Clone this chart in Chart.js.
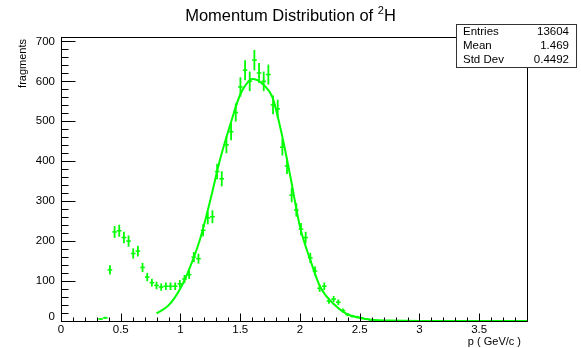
<!DOCTYPE html>
<html>
<head>
<meta charset="utf-8">
<script src="https://cdn.jsdelivr.net/npm/chart.js@4"></script>
<style>
  body { margin: 0; background: #fff; }
  canvas { display: block; }
</style>
</head>
<body>
<canvas id="myChart" width="581" height="348"></canvas>
<script>
// momentum histogram, 100 bins from 0 to 3.9 GeV/c
const xMin = 0
const xMax = 3.9
const binWidth = 0.039
const counts = [
  0, 0, 0, 0, 0, 0, 0, 0, 5, 8,
  128, 223, 226, 209, 200, 169, 175, 134, 110, 96,
  89, 85, 87, 87, 87, 93, 105, 116, 160, 156,
  227, 258, 261, 374, 356, 441, 474, 522, 586, 628,
  600, 653, 621, 600, 617, 541, 531, 435, 388, 315,
  278, 230, 209, 158, 125, 82, 87, 50, 55, 47,
  26, 16, 12, 10, 7, 5, 3, 2, 0, 0,
  0, 0, 0, 0, 0, 0, 0, 0, 0, 0,
  0, 0, 0, 0, 0, 0, 0, 0, 0, 0,
  0, 0, 0, 0, 0, 0, 0, 0, 0, 0
]

// fitted curve
const fitP = [0.8, 0.9, 1.0, 1.08, 1.17, 1.25, 1.33, 1.42, 1.5, 1.58, 1.61, 1.7, 1.77, 1.84, 1.92, 2.0, 2.09, 2.17, 2.28, 2.39, 2.5, 2.6, 2.75, 3.0, 3.9]
const fitN = [19, 39, 82, 135, 211, 303, 403, 495, 567, 603, 606, 590, 560, 478, 361, 236, 150, 85, 43, 18, 8, 3, 1, 0, 0]

const xTicks = ['0', '0.5', '1', '1.5', '2', '2.5', '3', '3.5']
const yTicks = ['0', '100', '200', '300', '400', '500', '600', '700']
const yMax = 711

const statNames = ['Entries', 'Mean', 'Std Dev']
const statValues = ['13604', '1.469', '0.4492']

const green = '#00ff00'
const font = '"Liberation Sans", Arial, sans-serif'

const histPoints = []
counts.forEach(function (n, i) {
  if (n > 0) histPoints.push({ x: xMin + (i + 0.5) * binWidth, y: n })
})
const fitPoints = fitP.map(function (p, i) { return { x: p, y: fitN[i] } })

// error bars: sqrt(N) vertically, bin width horizontally
const errorBars = {
  id: 'errorBars',
  beforeDatasetsDraw(chart) {
    const c = chart.ctx
    const xs = chart.scales.x
    const ys = chart.scales.y
    c.save()
    c.strokeStyle = green
    histPoints.forEach(function (pt) {
      const e = Math.sqrt(pt.y)
      const px = xs.getPixelForValue(pt.x)
      const py = ys.getPixelForValue(pt.y)
      c.lineWidth = 1.8
      c.beginPath()
      c.moveTo(px, ys.getPixelForValue(pt.y - e))
      c.lineTo(px, ys.getPixelForValue(pt.y + e))
      c.stroke()
      c.lineWidth = 1.5
      c.beginPath()
      c.moveTo(xs.getPixelForValue(pt.x - binWidth / 2), py)
      c.lineTo(xs.getPixelForValue(pt.x + binWidth / 2), py)
      c.stroke()
    })
    c.restore()
  }
}

// frame, inward ticks, labels, title and stats box
const frame = {
  id: 'frame',
  afterDraw(chart) {
    const c = chart.ctx
    const a = chart.chartArea
    const xs = chart.scales.x
    const ys = chart.scales.y
    c.save()
    c.strokeStyle = '#000'
    c.lineWidth = 1
    c.strokeRect(Math.round(a.left) + 0.5, Math.round(a.top) + 0.5,
      Math.round(a.right - a.left), Math.round(a.bottom - a.top))

    const bottom = Math.round(a.bottom) + 0.5
    const left = Math.round(a.left) + 0.5
    c.beginPath()
    for (let v = 0; v <= xMax + 1e-9; v += 0.1) {
      const px = Math.round(xs.getPixelForValue(v)) + 0.5
      const major = Math.abs(v * 2 - Math.round(v * 2)) < 1e-6
      c.moveTo(px, bottom)
      c.lineTo(px, bottom - (major ? 8 : 4))
    }
    for (let v = 0; v <= yMax; v += 20) {
      const py = Math.round(ys.getPixelForValue(v)) + 0.5
      c.moveTo(left, py)
      c.lineTo(left + (v % 100 === 0 ? 14 : 7), py)
    }
    c.stroke()

    c.fillStyle = '#000'
    c.font = '11.5px ' + font
    c.textAlign = 'center'
    c.textBaseline = 'middle'
    xTicks.forEach(function (t) {
      c.fillText(t, xs.getPixelForValue(parseFloat(t)), a.bottom + 9)
    })
    c.textAlign = 'right'
    yTicks.forEach(function (t, i) {
      const py = ys.getPixelForValue(parseFloat(t))
      c.fillText(t, 55, i === 0 ? py - 4 : py)
    })

    // axis titles
    c.font = '11px ' + font
    c.textAlign = 'right'
    c.textBaseline = 'alphabetic'
    c.fillText('p ( GeV/c )', 521, 345)
    c.save()
    c.translate(26, 39)
    c.rotate(-Math.PI / 2)
    c.fillText('fragments', 0, 0)
    c.restore()

    // title with superscript
    const main = 'Momentum Distribution of '
    c.font = '16.5px ' + font
    const w1 = c.measureText(main).width
    const wH = c.measureText('H').width
    c.font = '11px ' + font
    const w2 = c.measureText('2').width
    let tx = 290.5 - (w1 + w2 + wH) / 2
    c.textAlign = 'left'
    c.font = '16.5px ' + font
    c.fillText(main, tx, 21)
    c.font = '11px ' + font
    c.fillText('2', tx + w1, 14)
    c.font = '16.5px ' + font
    c.fillText('H', tx + w1 + w2, 21)

    // stats box
    c.fillStyle = '#fff'
    c.fillRect(456.5, 24.5, 120, 43)
    c.strokeStyle = '#333'
    c.strokeRect(456.5, 24.5, 120, 43)
    c.fillStyle = '#000'
    c.font = '11.5px ' + font
    c.textBaseline = 'middle'
    statNames.forEach(function (s, i) {
      const ry = 31.5 + i * 14
      c.textAlign = 'left'
      c.fillText(s, 463, ry)
      c.textAlign = 'right'
      c.fillText(statValues[i], 569, ry)
    })
    c.restore()
  }
}

const ctx = document.getElementById('myChart')
// eslint-disable-next-line no-unused-vars
const myChart = new Chart(ctx, {
  type: 'scatter',
  data: {
    datasets: [{
      data: histPoints,
      pointRadius: 0,
      showLine: false
    }, {
      type: 'line',
      data: fitPoints,
      borderColor: green,
      borderWidth: 2,
      pointRadius: 0,
      fill: false,
      cubicInterpolationMode: 'monotone'
    }]
  },
  options: {
    responsive: false,
    animation: false,
    layout: {
      padding: { left: 61, right: 54, top: 37, bottom: 27 }
    },
    scales: {
      x: { type: 'linear', min: xMin, max: xMax, display: false },
      y: { type: 'linear', min: 0, max: yMax, display: false }
    },
    plugins: {
      legend: { display: false },
      tooltip: { enabled: false }
    }
  },
  plugins: [errorBars, frame]
})
</script>
</body>
</html>
